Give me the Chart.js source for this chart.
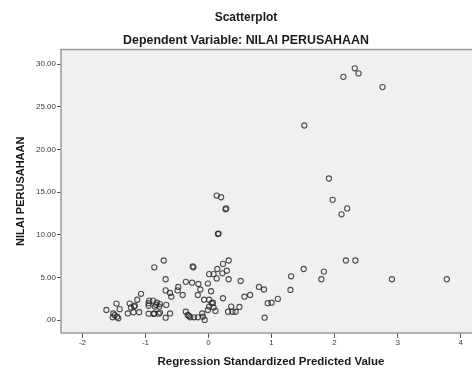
<!DOCTYPE html>
<html>
<head>
<meta charset="utf-8">
<script src="https://cdn.jsdelivr.net/npm/chart.js@4/dist/chart.umd.min.js"></script>
<style>
  html, body { margin: 0; padding: 0; background: #fff; }
  #wrap { width: 472px; height: 369px; }
</style>
</head>
<body>
<div id="wrap"><canvas id="scatter"></canvas></div>
<script>
// values
const predicted = [
  2.14, 2.32, 2.38, 2.76, 1.52, 1.91, 1.97, 2.20, 2.11, 2.18,
  2.33, 1.51, 1.83, 1.79, 2.91, 3.78, 1.31, 1.30, 0.80, 0.88,
  0.51, 0.57, 0.66, 0.94, 1.00, 1.10, 0.89, 0.36, 0.49, 0.43,
  0.13, 0.20, 0.27, 0.28, 0.15, 0.16, -0.71, -0.86, -0.25, -0.24,
  0.32, 0.23, 0.14, 0.29, 0.01, 0.08, 0.13, 0.22, 0.32, -0.68,
  -0.36, -0.26, -0.16, -0.01, -0.48, -0.49, -0.13, -0.17, 0.04, -0.68,
  -0.61, -0.59, -0.41, -1.07, -1.13, -1.25, -1.23, -1.17, -1.19, -1.10,
  -1.28, -1.46, -1.41, -1.62, -1.51, -1.52, -1.45, -1.49, -1.43, -0.95,
  -0.87, -0.79, -0.94, -0.88, -0.83, -0.77, -0.85, -0.95, -0.78, -0.67,
  -0.61, -0.68, -0.36, -0.33, -0.29, -0.23, -0.17, -0.09, -0.06, -0.10,
  -0.07, 0.01, 0.05, 0.07, 0.01, 0.08, 0.11, -0.01, 0.23, 0.38,
  0.31, -1.18, -0.95, -0.82, -0.86, -0.77, -0.31
];
const nilai = [
  28.5, 29.5, 28.9, 27.3, 22.8, 16.6, 14.1, 13.1, 12.4, 7.0,
  7.0, 6.0, 5.7, 4.8, 4.8, 4.8, 5.15, 3.55, 3.9, 3.6,
  4.6, 2.76, 2.96, 2.0, 2.06, 2.5, 0.3, 1.6, 1.56, 1.0,
  14.6, 14.4, 13.0, 13.1, 10.1, 10.15, 7.0, 6.2, 6.3, 6.2,
  7.0, 6.6, 6.0, 5.8, 5.4, 5.4, 4.9, 5.5, 4.8, 4.8,
  4.5, 4.4, 4.25, 4.3, 3.9, 3.5, 3.6, 2.96, 3.4, 3.5,
  3.2, 2.76, 2.96, 3.1, 2.4, 1.95, 1.5, 1.7, 0.94, 0.94,
  0.8, 1.95, 1.3, 1.2, 0.8, 0.35, 0.42, 0.6, 0.23, 0.77,
  0.74, 0.77, 2.3, 2.3, 1.8, 1.9, 1.6, 1.7, 1.6, 1.8,
  0.8, 0.3, 1.0, 0.62, 0.35, 0.35, 0.35, 0.42, 0.04, 0.8,
  2.4, 2.4, 2.0, 2.06, 1.6, 1.5, 1.1, 1.2, 2.58, 1.0,
  1.0, 1.6, 2.0, 2.06, 0.8, 0.9, 0.5
];
const xTickValues = [-2, -1, 0, 1, 2, 3, 4];
const xTickLabels = ["-2", "-1", "0", "1", "2", "3", "4"];
const yTickValues = [0, 5, 10, 15, 20, 25, 30];
const yTickLabels = [".00", "5.00", "10.00", "15.00", "20.00", "25.00", "30.00"];

const points = predicted.map((x, i) => ({ x: x, y: nilai[i] }));

const FONT = "'Liberation Sans', Arial, sans-serif";

// grey plot box, titles and x axis title (SPSS style)
const frame = {
  id: "frame",
  beforeDatasetsDraw(chart) {
    const { ctx, chartArea: a } = chart;
    ctx.save();
    ctx.fillStyle = "#f0f0f0";
    ctx.fillRect(a.left, a.top, a.right - a.left, a.bottom - a.top);
    ctx.strokeStyle = "#9a9a9a";
    ctx.lineWidth = 1.5;
    ctx.beginPath();
    ctx.moveTo(a.right + 2, a.top);
    ctx.lineTo(a.left, a.top);
    ctx.lineTo(a.left, a.bottom);
    ctx.lineTo(a.right + 2, a.bottom);
    ctx.stroke();
    ctx.restore();
  },
  afterDraw(chart) {
    const ctx = chart.ctx;
    ctx.save();
    ctx.fillStyle = "#1a1a1a";
    ctx.textAlign = "center";
    ctx.textBaseline = "middle";
    ctx.font = "bold 12px " + FONT;
    ctx.fillText("Scatterplot", 246, 18);
    ctx.font = "bold 12.4px " + FONT;
    ctx.fillText("Dependent Variable: NILAI PERUSAHAAN", 246, 41);
    ctx.font = "bold 11.5px " + FONT;
    ctx.fillText("Regression Standardized Predicted Value", 271, 362);
    ctx.restore();
  }
};

new Chart(document.getElementById("scatter"), {
  type: "scatter",
  data: {
    datasets: [{
      data: points,
      pointStyle: "circle",
      pointRadius: 2.6,
      pointBorderWidth: 1.1,
      pointBorderColor: "rgba(40, 40, 40, 0.8)",
      pointBackgroundColor: "rgba(0, 0, 0, 0)"
    }]
  },
  options: {
    responsive: true,
    maintainAspectRatio: false,
    animation: false,
    layout: { autoPadding: false, padding: { top: 49.5, right: 0, left: 0, bottom: 0 } },
    plugins: {
      legend: { display: false },
      tooltip: { enabled: false }
    },
    scales: {
      x: {
        type: "linear",
        min: -2.34,
        max: 4.18,
        afterBuildTicks: scale => {
          scale.ticks = xTickValues.map(v => ({ value: v }));
        },
        afterFit: scale => { scale.height = 36; },
        border: { display: false },
        grid: {
          drawOnChartArea: false,
          drawTicks: true,
          tickLength: 5,
          color: "#555",
          lineWidth: 1
        },
        ticks: {
          padding: 0,
          color: "#3a3a3a",
          font: { family: FONT, size: 8 },
          callback: (value) => xTickLabels[xTickValues.indexOf(value)]
        }
      },
      y: {
        type: "linear",
        min: -1.49,
        max: 31.7,
        afterBuildTicks: scale => {
          scale.ticks = yTickValues.map(v => ({ value: v }));
        },
        afterFit: scale => { scale.width = 61; },
        border: { display: false },
        grid: {
          drawOnChartArea: false,
          drawTicks: true,
          tickLength: 4,
          color: "#555",
          lineWidth: 1
        },
        ticks: {
          padding: 1,
          color: "#3a3a3a",
          font: { family: FONT, size: 8 },
          callback: (value) => yTickLabels[yTickValues.indexOf(value)]
        },
        title: {
          display: true,
          text: "NILAI PERUSAHAAN",
          color: "#1a1a1a",
          font: { family: FONT, size: 11, weight: "bold" },
          padding: { top: 14, bottom: 0 }
        }
      }
    }
  },
  plugins: [frame]
});
</script>
</body>
</html>
